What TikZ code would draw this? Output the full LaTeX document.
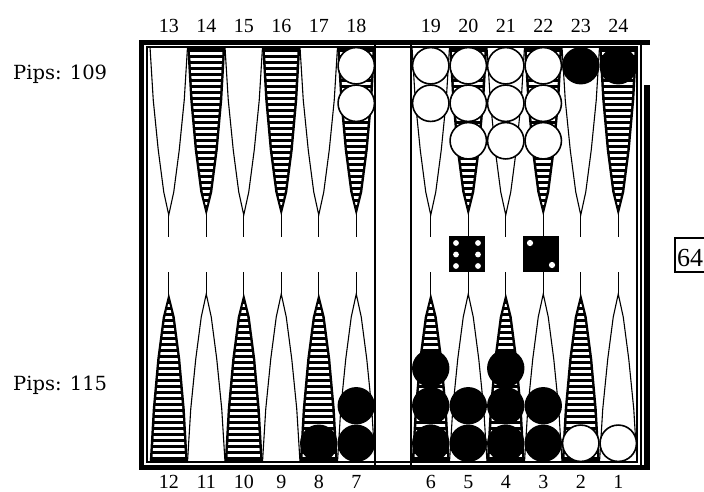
\documentclass[tikz,border=0pt]{standalone}
\usepackage{fontspec}
\setmainfont{Liberation Serif}
\newfontfamily\pipfont{DejaVu Serif}
\begin{document}
\begin{tikzpicture}[x=1pt,y=-1pt,
  tri/.style={draw=black,line width=1.1,fill=white},
  stripe/.style={white,line width=2.5},
  tipline/.style={line width=1.1},
  wchk/.style={draw=black,fill=white,line width=1.6},
  bchk/.style={fill=black},
  num/.style={font=\fontsize{20}{20}\selectfont,inner sep=0,anchor=base},
  pips/.style={font=\pipfont\fontsize{19.5}{19.5}\selectfont,inner sep=0,anchor=base west},
  pip/.style={fill=white},
]
\useasboundingbox (0,0) rectangle (704,492);
\fill[white] (0,0) rectangle (704,492);

% points
\foreach \i in {0,...,11}{
  \pgfmathsetmacro\cx{ifthenelse(\i<6,168.75+37.5*\i,430.75+37.5*(\i-6))}
  \pgfmathtruncatemacro\odd{mod(\i,2)}
  \pgfmathtruncatemacro\tn{13+\i}
  \pgfmathtruncatemacro\bn{12-\i}
  \draw[tipline] (\cx,214) -- (\cx,237);
  \draw[tipline] (\cx,295) -- (\cx,272);
  \ifnum\odd=1
    % striped top
    \fill (\cx-19,47) -- (\cx-16,100) -- (\cx-11.5,150) -- (\cx-6,192) -- (\cx,216) -- (\cx+6,192) -- (\cx+11.5,150) -- (\cx+16,100) -- (\cx+19,47) -- cycle;
    \begin{scope}
      \clip (\cx-16.5,47) -- (\cx-13.5,100) -- (\cx-9,150) -- (\cx-3.8,190) -- (\cx,208) -- (\cx+3.8,190) -- (\cx+9,150) -- (\cx+13.5,100) -- (\cx+16.5,47) -- cycle;
      \foreach \y in {53.5,59.5,...,210} \draw[stripe] (\cx-20,\y) -- (\cx+20,\y);
    \end{scope}
    % white bottom
    \draw[tri] (\cx-18.75,462) -- (\cx-15.5,409) -- (\cx-10.5,359) -- (\cx-5,317) -- (\cx,294) -- (\cx+5,317) -- (\cx+10.5,359) -- (\cx+15.5,409) -- (\cx+18.75,462);
  \else
    \draw[tri] (\cx-18.75,47) -- (\cx-15.5,100) -- (\cx-10.5,150) -- (\cx-5,192) -- (\cx,215) -- (\cx+5,192) -- (\cx+10.5,150) -- (\cx+15.5,100) -- (\cx+18.75,47);
    \fill (\cx-19,462) -- (\cx-16,409) -- (\cx-11.5,359) -- (\cx-6,317) -- (\cx,293) -- (\cx+6,317) -- (\cx+11.5,359) -- (\cx+16,409) -- (\cx+19,462) -- cycle;
    \begin{scope}
      \clip (\cx-16.5,462) -- (\cx-13.5,409) -- (\cx-9,359) -- (\cx-3.8,319) -- (\cx,301) -- (\cx+3.8,319) -- (\cx+9,359) -- (\cx+13.5,409) -- (\cx+16.5,462) -- cycle;
      \foreach \y in {455.5,449.5,...,300} \draw[stripe] (\cx-20,\y) -- (\cx+20,\y);
    \end{scope}
  \fi
  \node[num] (top\i) at (\cx,33) {\tn};
  \node[num] (bot\i) at (\cx,488) {\bn};
}

% checkers top (white)
\foreach \x/\n in {356.25/2,430.75/2,468.25/3,505.75/3,543.25/3}{
  \foreach \r in {1,...,\n}{
    \pgfmathsetmacro\yy{65.75+37.5*(\r-1)}
    \draw[wchk] (\x,\yy) circle (18.2);
  }
}
\fill[bchk] (580.75,65.75) circle (18.7);
\fill[bchk] (618.25,65.75) circle (18.7);

% checkers bottom (black)
\foreach \x/\n in {318.75/1,356.25/2,430.75/3,468.25/2,505.75/3,543.25/2}{
  \foreach \r in {1,...,\n}{
    \pgfmathsetmacro\yy{443.25-37.5*(\r-1)}
    \fill[bchk] (\x,\yy) circle (18.7);
  }
}
\draw[wchk] (580.75,443.25) circle (18.2);
\draw[wchk] (618.25,443.25) circle (18.2);

% frame
\draw[line width=1.2] (147,47) rectangle (637,462);
\fill (139,40) rectangle (650,45);
\fill (139,40) rectangle (144,470);
\fill (139,465) rectangle (650,470);
\fill (644,85) rectangle (650,470);
\draw[line width=1.1] (641,45) -- (641,465);
\draw[line width=1.5] (375,45) -- (375,465);
\draw[line width=1.5] (411,45) -- (411,465);

% dice
\fill (449,236) rectangle (485,272);
\foreach \px in {456,478}{
  \foreach \py in {243,254.5,266}{
    \fill[pip] (\px,\py) circle (2.9);
  }
}
\fill (523,236) rectangle (559,272);
\fill[pip] (530,243) circle (3.1);
\fill[pip] (552,265) circle (3.1);

% cube
\draw[line width=1.2] (675,238) rectangle (715,272);
\node[font=\fontsize{26}{26}\selectfont,inner sep=0,anchor=base west] (cube) at (677,266) {64};

% pips
\node[pips] (pipsTop) at (13,80) {Pips: 109};
\node[pips] (pipsBot) at (13,390) {Pips: 115};
\end{tikzpicture}
\end{document}
